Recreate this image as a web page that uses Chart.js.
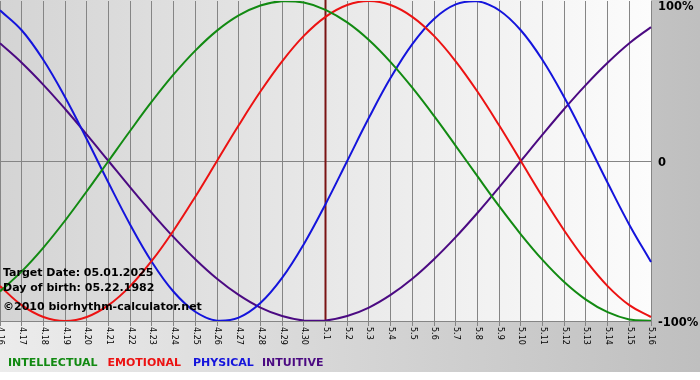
<!DOCTYPE html>
<html><head><meta charset="utf-8">
<script src="https://cdn.jsdelivr.net/npm/chart.js@4.4.1/dist/chart.umd.min.js"></script>
<style>html,body{margin:0;padding:0;background:#fff;overflow:hidden}canvas{display:block}</style>
</head><body>
<canvas id="c" width="700" height="380"></canvas>
<script>
// ---- data ----
const dayLabels = ['4.16','4.17','4.18','4.19','4.20','4.21','4.22','4.23','4.24','4.25','4.26','4.27','4.28','4.29','4.30',
  '5.1','5.2','5.3','5.4','5.5','5.6','5.7','5.8','5.9','5.10','5.11','5.12','5.13','5.14','5.15','5.16'];
const intellectual = [-0.815,-0.690,-0.541,-0.372,-0.189,0,0.189,0.372,0.541,0.690,0.815,0.910,0.972,0.999,0.990,
  0.945,0.866,0.756,0.618,0.458,0.282,0.095,-0.095,-0.282,-0.458,-0.618,-0.756,-0.866,-0.945,-0.990,-0.999];
const emotional = [-0.782,-0.901,-0.975,-1,-0.975,-0.901,-0.782,-0.623,-0.434,-0.223,0,0.223,0.434,0.623,0.782,
  0.901,0.975,1,0.975,0.901,0.782,0.623,0.434,0.223,0,-0.223,-0.434,-0.623,-0.782,-0.901,-0.975];
const physical = [0.942,0.817,0.631,0.398,0.136,-0.136,-0.398,-0.631,-0.817,-0.942,-0.998,-0.979,-0.888,-0.731,-0.520,
  -0.270,0,0.270,0.520,0.731,0.888,0.979,0.998,0.942,0.817,0.631,0.398,0.136,-0.136,-0.398,-0.631];
const intuitive = [0.736,0.614,0.476,0.325,0.165,0,-0.165,-0.325,-0.476,-0.614,-0.736,-0.837,-0.916,-0.969,-0.997,
  -0.997,-0.969,-0.916,-0.837,-0.736,-0.614,-0.476,-0.325,-0.165,0,0.165,0.325,0.476,0.614,0.736,0.837];
const yTickValues = [1, 0, -1];
const yTickLabels = ['100%', '0', '-100%'];
const targetDay = '5.1';
const infoLines = ['Target Date: 05.01.2025', 'Day of birth: 05.22.1982', '\u00A92010 biorhythm-calculator.net'];
const seriesNames = ['INTELLECTUAL', 'EMOTIONAL', 'PHYSICAL', 'INTUITIVE'];

// ---- styles ----
const seriesColors = ['#128a12', '#ec1212', '#1414dc', '#4b0a82'];
const legendX = [8, 107.5, 193, 262];
const infoBaselines = [276, 291, 310];
const gridColor = '#858585';

const decorPlugin = {
  id: 'decor',
  beforeDraw(chart) {
    const {ctx, chartArea: a} = chart;
    ctx.save();
    ctx.fillStyle = '#ffffff';
    ctx.fillRect(0, 0, chart.width, chart.height);
    let g = ctx.createLinearGradient(0, 0, chart.width, 0);
    g.addColorStop(0, '#ececec');
    g.addColorStop(1, '#bfbfbf');
    ctx.fillStyle = g;
    ctx.fillRect(0, 0, chart.width, 372);
    g = ctx.createLinearGradient(a.left, 0, a.right, 0);
    g.addColorStop(0, '#d4d4d4');
    g.addColorStop(1, '#fcfcfc');
    ctx.fillStyle = g;
    ctx.fillRect(a.left, 0, a.right - a.left, a.bottom);
    ctx.restore();
  },
  beforeDatasetsDraw(chart) {
    const {ctx, chartArea: a, scales: {x}} = chart;
    const px = x.getPixelForValue(dayLabels.indexOf(targetDay));
    ctx.save();
    ctx.strokeStyle = '#7a1414';
    ctx.lineWidth = 2;
    ctx.beginPath();
    ctx.moveTo(px, 0);
    ctx.lineTo(px, a.bottom);
    ctx.stroke();
    ctx.restore();
  },
  afterDraw(chart) {
    const {ctx, chartArea: a, scales: {x, y}} = chart;
    ctx.save();
    // x tick labels, rotated clockwise
    ctx.fillStyle = '#000';
    ctx.font = '8px "DejaVu Sans"';
    ctx.textAlign = 'left';
    ctx.textBaseline = 'middle';
    dayLabels.forEach((lab, i) => {
      const px = x.getPixelForValue(i);
      ctx.save();
      ctx.translate(px + 0.5, a.bottom + 6);
      ctx.rotate(Math.PI / 2);
      ctx.fillText(lab, 0, 0);
      ctx.restore();
    });
    // right y labels
    ctx.font = 'bold 11.5px "DejaVu Sans"';
    ctx.textBaseline = 'alphabetic';
    yTickValues.forEach((v, i) => {
      const py = y.getPixelForValue(v);
      ctx.fillText(yTickLabels[i], a.right + 7, Math.max(py + 5, 10));
    });
    // info text
    ctx.font = 'bold 11px "DejaVu Sans"';
    infoLines.forEach((t, i) => ctx.fillText(t, 3, infoBaselines[i]));
    // legend
    chart.data.datasets.forEach((ds, i) => {
      ctx.fillStyle = ds.borderColor;
      ctx.fillText(ds.label, legendX[i], 366);
    });
    ctx.restore();
  }
};

const mk = (label, data, i) => ({
  label, data, borderColor: seriesColors[i], borderWidth: 2, pointRadius: 0, tension: 0.4, fill: false
});

new Chart(document.getElementById('c'), {
  type: 'line',
  data: {
    labels: dayLabels,
    datasets: [
      mk(seriesNames[0], intellectual, 0),
      mk(seriesNames[1], emotional, 1),
      mk(seriesNames[2], physical, 2),
      mk(seriesNames[3], intuitive, 3)
    ]
  },
  options: {
    responsive: false,
    animation: false,
    devicePixelRatio: 1,
    layout: { padding: { left: 0, right: 49, top: 1, bottom: 54 } },
    plugins: { legend: { display: false }, tooltip: { enabled: false } },
    scales: {
      x: {
        type: 'category',
        offset: false,
        grid: { color: gridColor, lineWidth: 1, drawTicks: true, tickLength: 5 },
        border: { display: true, color: gridColor },
        ticks: { display: false }
      },
      y: {
        min: -1, max: 1,
        grid: {
          color: (c) => (c.tick && c.tick.value === 1) ? 'rgba(0,0,0,0)' : gridColor,
          lineWidth: 1, drawTicks: false
        },
        border: { display: false },
        ticks: { display: false, stepSize: 1 }
      }
    }
  },
  plugins: [decorPlugin]
});
</script>
</body></html>
